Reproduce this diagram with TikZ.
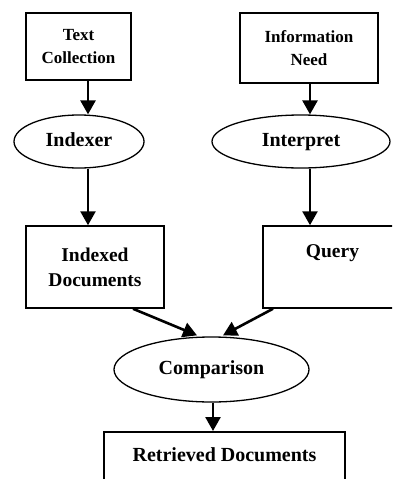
\documentclass[tikz,border=0pt]{standalone}
\usepackage{fontspec}
\setmainfont{Liberation Serif}
\usetikzlibrary{arrows.meta,shapes.geometric}
\tikzset{
  boxnode/.style={draw,line width=1.5pt,rectangle,inner sep=0pt,align=center,font=\bfseries\fontsize{19.5}{25}\selectfont},
  smallbox/.style={boxnode,font=\bfseries\fontsize{17}{23}\selectfont},
  ellnode/.style={draw,line width=1.3pt,ellipse,inner sep=0pt,text height=13pt,text depth=4pt,font=\bfseries\fontsize{20}{25}\selectfont},
  arr/.style={line width=2.6pt,-{Triangle[length=14pt,width=15pt]}},
}
\begin{document}
\begin{tikzpicture}[x=1pt,y=-1pt]
\useasboundingbox (0,0) rectangle (392,479);
\clip (0,0) rectangle (392,479);
\node[smallbox,minimum width=105pt,minimum height=67pt] (tc) at (78.5,46.5) {Text\\Collection};
\node[smallbox,minimum width=138pt,minimum height=70pt] (in) at (309,48) {Information\\Need};
\node[ellnode,minimum width=130pt,minimum height=53pt] (ix) at (79,141.5) {Indexer};
\node[ellnode,minimum width=178pt,minimum height=53pt] (ip) at (301,141.5) {Interpret};
\node[boxnode,minimum width=138pt,minimum height=82pt] (id) at (95,267) {Indexed\\Documents};
\node[boxnode,minimum width=139pt,minimum height=82pt] (q) at (332.5,267) {Query\\\strut};
\node[ellnode,minimum width=195pt,minimum height=65pt] (cp) at (211.5,369.5) {Comparison};
\node[boxnode,minimum width=241pt,minimum height=50pt,anchor=north] (rd) at (224.5,431) {};
\node[font=\bfseries\fontsize{20}{25}\selectfont,inner sep=0pt] (rdt) at (224.5,455) {Retrieved Documents};
\draw[arr] ([xshift=9.5pt]tc.south) -- ([xshift=9pt]ix.north);
\draw[arr] ([xshift=1pt]in.south) -- ([xshift=9pt]ip.north);
\draw[arr] ([xshift=9pt]ix.south) -- ([xshift=-7pt]id.north);
\draw[arr] ([xshift=9pt]ip.south) -- ([xshift=-22.5pt]q.north);
\draw[arr] ([xshift=38pt]id.south) -- ([xshift=-14.5pt,yshift=1pt]cp.north);
\draw[arr] ([xshift=-59.5pt]q.south) -- ([xshift=11.5pt,yshift=1pt]cp.north);
\draw[arr] ([xshift=1.5pt]cp.south) -- ([xshift=-11.5pt]rd.north);
\end{tikzpicture}
\end{document}
